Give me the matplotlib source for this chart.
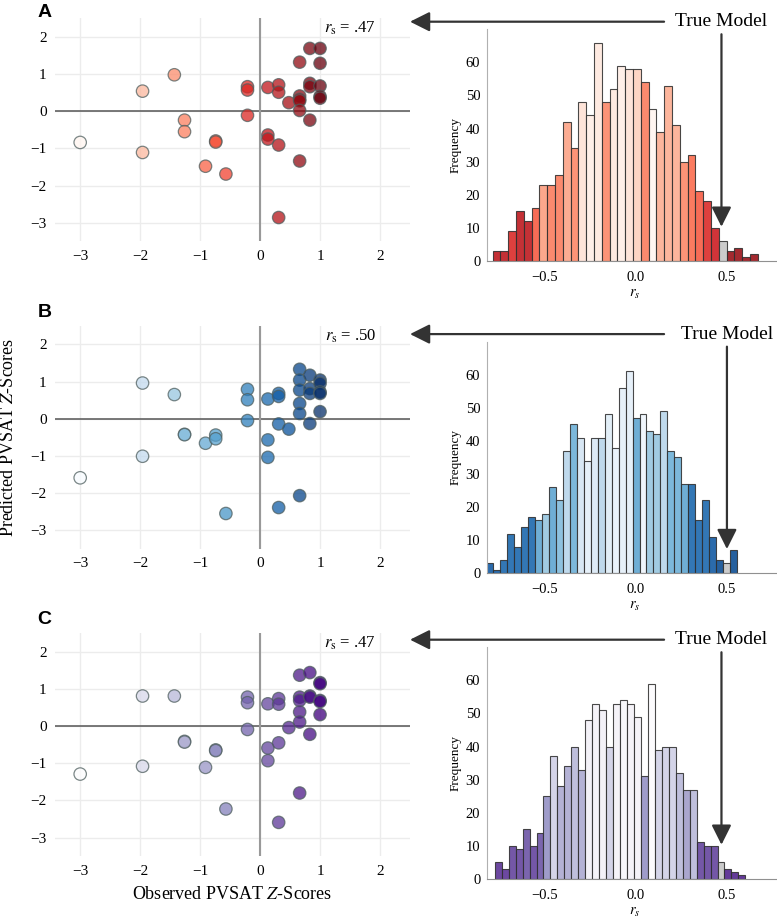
import numpy as np
import matplotlib
matplotlib.use("Agg")
import matplotlib.pyplot as plt
from matplotlib import transforms

plt.rcParams["font.family"] = "serif"
plt.rcParams["font.serif"] = ["Liberation Serif", "DejaVu Serif"]
plt.rcParams["mathtext.fontset"] = "stix"

# observed z-scores (same subjects in all three panels)
observed = [-3.0, -1.96, -1.96, -1.43, -1.26, -1.26, -0.91, -0.74, -0.74, -0.57,
            -0.21, -0.21, -0.21, 0.13, 0.13, 0.13, 0.31, 0.31, 0.31, 0.31, 0.48,
            0.66, 0.66, 0.66, 0.66, 0.66, 0.66, 0.83, 0.83, 0.83, 0.83,
            1.0, 1.0, 1.0, 1.0, 1.0]

pred_a = [-0.84, 0.54, -1.11, 0.98, -0.24, -0.55, -1.48, -0.80, -0.83, -1.69,
          0.66, 0.57, -0.11, 0.64, -0.64, -0.75, 0.71, 0.51, -0.91, -2.86, 0.23,
          1.32, 0.41, 0.32, 0.28, 0.02, -1.34, 1.69, 0.75, 0.66, -0.24,
          1.69, 1.29, 0.68, 0.40, 0.35]
pred_b = [-1.59, 0.96, -1.01, 0.65, -0.42, -0.43, -0.66, -0.44, -0.54, -2.55,
          0.79, 0.51, -0.05, 0.53, -0.57, -1.04, 0.68, 0.60, -0.14, -2.39, -0.28,
          1.33, 1.04, 0.77, 0.41, 0.14, -2.07, 1.17, 0.81, 0.68, -0.13,
          1.04, 0.95, 0.72, 0.68, 0.19]
pred_c = [-1.29, 0.81, -1.08, 0.81, -0.41, -0.43, -1.11, -0.64, -0.66, -2.23,
          0.78, 0.63, -0.09, 0.60, -0.59, -0.93, 0.74, 0.59, -0.45, -2.59, -0.04,
          1.37, 0.78, 0.69, 0.38, 0.11, -1.80, 1.44, 0.81, 0.78, -0.22,
          1.17, 1.14, 0.69, 0.66, 0.31]

r_true = [0.47, 0.50, 0.47]
r_text = [".47", ".50", ".47"]

# permutation histograms: bin start, bin width, counts, colour level per bar
bin_start = [-0.786, -0.82, -0.774]
bin_width = [0.0428, 0.0382, 0.0382]

counts_a = [3, 3, 9, 15, 12, 16, 23, 23, 26, 42, 34, 48, 44, 66, 48, 52, 59,
            58, 58, 54, 46, 39, 53, 41, 30, 32, 21, 18, 10, 6, 3, 4, 1, 2]
shade_a = [0.8, 0.8, 0.7, 0.8, 0.8, 0.55, 0.35, 0.45, 0.45, 0.33, 0.42, 0.12,
           0.05, 0.08, 0.42, 0.08, 0.05, 0.12, 0.18, 0.45, 0.0, 0.3, 0.3, 0.3,
           0.42, 0.5, 0.55, 0.7, 0.75, 0.0, 0.9, 0.9, 0.9, 0.9]

counts_b = [3, 1, 4, 12, 8, 14, 17, 16, 18, 26, 22, 37, 45, 41, 34, 41, 41, 48,
            38, 56, 61, 47, 48, 43, 42, 49, 37, 35, 27, 27, 16, 22, 11, 4, 3, 7]
shade_b = [0.85, 0.85, 0.8, 0.8, 0.8, 0.8, 0.8, 0.55, 0.4, 0.55, 0.45, 0.3,
           0.5, 0.18, 0.1, 0.15, 0.3, 0.12, 0.08, 0.1, 0.1, 0.55, 0.05, 0.4,
           0.4, 0.3, 0.5, 0.5, 0.55, 0.8, 0.8, 0.8, 0.85, 0.9, 0.0, 0.9]

counts_c = [5, 3, 10, 9, 15, 10, 14, 25, 37, 28, 34, 40, 33, 48, 53, 51, 40, 53,
            54, 53, 49, 31, 59, 39, 40, 40, 32, 27, 27, 11, 10, 10, 5, 3, 2, 1]
shade_c = [0.85, 0.85, 0.8, 0.8, 0.75, 0.8, 0.75, 0.55, 0.3, 0.45, 0.45, 0.4,
           0.45, 0.1, 0.08, 0.1, 0.3, 0.08, 0.05, 0.08, 0.08, 0.55, 0.0, 0.3,
           0.3, 0.3, 0.4, 0.5, 0.4, 0.8, 0.8, 0.8, 0.0, 0.9, 0.9, 0.9]

panels = [
    ("A", "Reds", pred_a, counts_a, shade_a),
    ("B", "Blues", pred_b, counts_b, shade_b),
    ("C", "Purples", pred_c, counts_c, shade_c),
]

W, H = 777, 919
fig = plt.figure(figsize=(W / 100, H / 100), dpi=100)

sc_top = [18.3, 325.8, 633.2]
hist_top = [29.3, 341.7, 647.3]
letter_y = [1.025, 1.058, 1.060]


def px_rect(left, top, width, height):
    return [left / W, 1 - (top + height) / H, width / W, height / H]


for i, (letter, cmap_name, pred, counts, shade) in enumerate(panels):
    cmap = plt.get_cmap(cmap_name)

    # scatter panel
    ax = fig.add_axes(px_rect(55, sc_top[i], 355, 223))
    ax.set_xlim(-3.42, 2.5)
    ax.set_ylim(-3.5, 2.5)
    ax.set_xticks([-3, -2, -1, 0, 1, 2])
    ax.set_yticks([-3, -2, -1, 0, 1, 2])
    ax.grid(True, color="#ececec", lw=1)
    ax.set_axisbelow(True)
    for s in ax.spines.values():
        s.set_visible(False)
    ax.tick_params(length=0, labelsize=11, pad=6)
    ax.axhline(0, color="#555555", lw=1.1, zorder=1)
    ax.axvline(0, color="#999999", lw=1.5, zorder=1)
    ax.scatter(observed, pred, c=observed, cmap=cmap, vmin=-3, vmax=1,
               s=80, alpha=0.75, edgecolors="#4f5f5f", linewidths=0.9, zorder=3)
    ax.text(0.905, 0.955, r"$r_\mathrm{s}$ = " + r_text[i], transform=ax.transAxes,
            ha="right", va="center", fontsize=12)
    ax.text(-0.03, letter_y[i], letter, transform=ax.transAxes, fontsize=14,
            fontweight="bold", family=["Liberation Sans", "DejaVu Sans"],
            ha="center", va="center")
    if i == 1:
        ax.set_ylabel("Predicted PVSAT $Z$-Scores", fontsize=13, labelpad=10)
    if i == 2:
        ax.set_xlabel("Observed PVSAT $Z$-Scores", fontsize=13, labelpad=6)

    # permutation histogram
    ah = fig.add_axes(px_rect(487.3, hist_top[i], 294.3, 231.5))
    edges = bin_start[i] + bin_width[i] * np.arange(len(counts))
    colors = [cmap(v) for v in shade]
    gray_idx = int((r_true[i] - bin_start[i]) // bin_width[i])
    colors[gray_idx] = "#c4c4c4"
    ah.bar(edges, counts, width=bin_width[i], align="edge", color=colors,
           alpha=0.88, edgecolor="#303030", linewidth=0.8)
    ah.set_xlim(-0.815, 0.8)
    ah.set_ylim(0, 70)
    ah.set_xticks([-0.5, 0.0, 0.5])
    ah.set_xticklabels(["\u22120.5", "0.0", "0.5"])
    ah.set_yticks([0, 10, 20, 30, 40, 50, 60])
    ah.tick_params(axis="y", length=0, labelsize=10.5, pad=5)
    ah.tick_params(axis="x", length=0, labelsize=10.5, pad=7)
    for name in ["top", "right"]:
        ah.spines[name].set_visible(False)
    ah.spines["left"].set_color("#b0b0b0")
    ah.spines["bottom"].set_color("#909090")
    ah.set_ylabel("Frequency", fontsize=9.5, labelpad=3)
    ah.set_xlabel("$r_s$", fontsize=10.5, labelpad=3)

    # "True Model" label and arrows
    ah.text(r_true[i], 72.3, "True Model", ha="center", va="center",
            fontsize=14, clip_on=False)
    tip = max(counts[gray_idx - 1:gray_idx + 2]) + 0.3
    ah.annotate("", xy=(r_true[i], tip), xytext=(r_true[i], 68.5),
                arrowprops=dict(arrowstyle="-|>,head_length=0.8,head_width=0.4",
                                mutation_scale=15, color="#333333", lw=1.6,
                                shrinkA=0, shrinkB=0),
                annotation_clip=False)
    blend = transforms.blended_transform_factory(ax.transAxes, ah.transData)
    ah.annotate("", xy=(1.0, 72.3), xycoords=blend,
                xytext=(0.155, 72.3), textcoords="data",
                arrowprops=dict(arrowstyle="-|>,head_length=0.8,head_width=0.4",
                                mutation_scale=15, color="#333333", lw=1.6,
                                shrinkA=0, shrinkB=0),
                annotation_clip=False)

fig.savefig("out.png", dpi=100)
